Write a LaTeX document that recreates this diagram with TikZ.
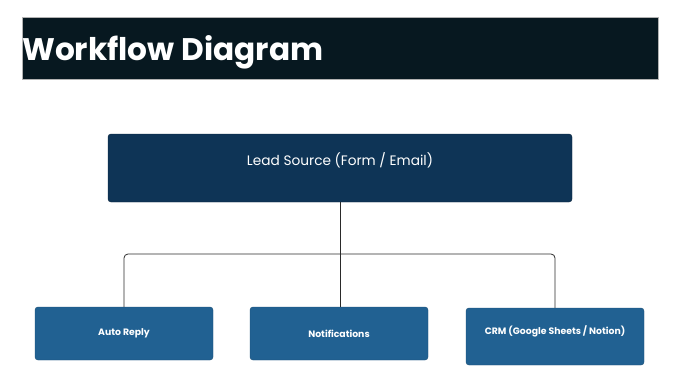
\documentclass[tikz,border=0pt]{standalone}
\usepackage{fontspec}
\setmainfont{Poppins}
\usepackage{xcolor}
\usepackage{tikz}
\usetikzlibrary{arrows.meta,positioning,calc}

\definecolor{titlebg}{HTML}{071820}
\definecolor{srcblue}{HTML}{0E3456}
\definecolor{stepblue}{HTML}{216192}
\definecolor{linkgray}{HTML}{2A2A2A}

\begin{document}
\begin{tikzpicture}[
  x=1pt, y=-1pt,
  bar/.style={fill=titlebg, draw=gray!60, line width=0.6pt},
  srcbox/.style={draw=srcblue!70!black, fill=srcblue, rounded corners=3pt, text=white,
    minimum width=464pt, minimum height=68pt, text depth=18pt, font=\fontsize{13.7}{16}\selectfont},
  stepbox/.style={draw=stepblue!80!black, fill=stepblue, rounded corners=3pt, text=white,
    minimum width=178pt, minimum height=53pt, font=\bfseries\fontsize{9.3}{11}\selectfont},
  link/.style={draw=linkgray, line width=0.8pt, rounded corners=4pt}
]
\useasboundingbox (0,0) rectangle (680,383);
% title bar
\node[bar, minimum width=636pt, minimum height=62pt, inner sep=0pt] (bar) at (340,48) {};
\node[anchor=base west, text=white, inner sep=0pt, font=\bfseries\fontsize{31.2}{35}\selectfont]
  (title) at (22,60) {Workflow Diagram};
% source
\node[srcbox] (src) at (340,168) {Lead Source (Form / Email)};
% targets
\node[stepbox] (auto) at (124,333.5) {Auto Reply};
\node[stepbox] (notif) at (339,333.5) {Notifications};
\node[stepbox, minimum height=57pt, text depth=13pt] (crm) at (555,336.5) {CRM (Google Sheets / Notion)};
% connectors
\coordinate (split) at (340,254);
\draw[link] (src.south) -- (split);
\draw[link] (split) -| (auto.north);
\draw[link] (split) -- (split |- notif.north);
\draw[link] (split) -| (crm.north);
\end{tikzpicture}
\end{document}
